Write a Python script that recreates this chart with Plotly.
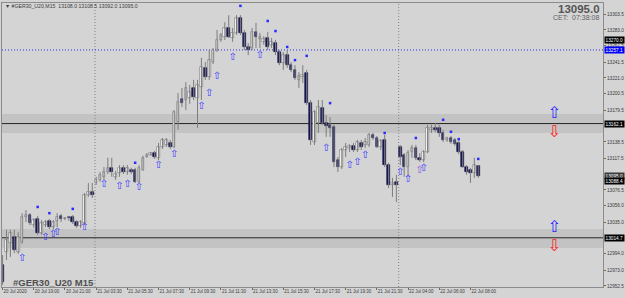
import plotly.graph_objects as go

# ---------------- data ----------------
opens = [12980, 12996.5, 13008, 13016, 12996.5, 13009.5, 13041.5, 13044, 13031, 13039,
         13021, 13031, 13036.5, 13028.5, 13036.5, 13043, 13039, 13040.5, 13041.5, 13035,
         13030, 13034, 13070, 13074, 13085.5, 13089.5, 13093.5, 13099.5, 13105, 13093.5,
         13098.5, 13105, 13099.5, 13102.5, 13102.5, 13087, 13102.5, 13119, 13121.5, 13124,
         13118, 13132, 13134.5, 13137, 13132, 13164, 13194, 13192.5, 13195, 13208,
         13195, 13209.5, 13234, 13222, 13241.5, 13257, 13270, 13274, 13285.5, 13272.5,
         13279, 13298.5, 13279, 13261, 13259.5, 13280.5, 13271.5, 13267.5, 13272.5, 13263.5,
         13266, 13254.5, 13240.5, 13250.5, 13237.5, 13231.5, 13218.5, 13222, 13227.5, 13188.5,
         13138.5, 13163, 13182.5, 13163, 13160.5, 13157.5, 13115, 13106, 13128, 13130.5,
         13133.5, 13128, 13137, 13134.5, 13134.5, 13147.5, 13143.5, 13132, 13141, 13108.5,
         13083, 13087, 13132, 13121.5, 13106, 13125.5, 13130.5, 13118, 13115, 13125.5,
         13153.5, 13156.5, 13156.5, 13150, 13141, 13143.5, 13141, 13137, 13125.5, 13106,
         13102.5, 13098.5, 13108.0]
highs = [12992.5, 13025, 13025, 13025, 13022, 13046.5, 13050.5, 13046.5, 13040, 13043,
         13037.5, 13037.5, 13039, 13037.5, 13046.5, 13045.5, 13041.5, 13043, 13044, 13037.5,
         13037.5, 13072.5, 13085.5, 13085.5, 13093.5, 13099.5, 13106, 13118, 13118, 13101,
         13108.5, 13108.5, 13108.5, 13105, 13105, 13108.5, 13120.5, 13124, 13125.5, 13127,
         13137, 13143.5, 13143.5, 13141, 13179.5, 13201.5, 13208, 13215.5, 13212, 13218.5,
         13218.5, 13247, 13241.5, 13257, 13259.5, 13283, 13279, 13293, 13302, 13285.5,
         13302, 13302, 13283, 13266, 13285.5, 13292, 13279, 13275, 13280.5, 13272.5,
         13270, 13257, 13254.5, 13257, 13241.5, 13237.5, 13228.5, 13237.5, 13231.5, 13192.5,
         13179.5, 13192.5, 13192.5, 13173, 13170.5, 13160.5, 13119, 13130.5, 13137, 13135.5,
         13137, 13141, 13141, 13143.5, 13150, 13150, 13146, 13142, 13147.5, 13111.5,
         13092, 13096, 13134.5, 13124, 13128, 13134.5, 13134.5, 13124, 13128, 13160.5,
         13160.5, 13163, 13160.5, 13154, 13145, 13146, 13143.5, 13140, 13128, 13108.5,
         13105, 13118, 13108.5]
lows = [12954, 12986, 12990, 12995, 12994, 13007, 13035, 13031, 13027.5, 13018.5,
        13018.5, 13028.5, 13026, 13026, 13028.5, 13035, 13037.5, 13036.5, 13032.5, 13027.5,
        13027.5, 13031, 13067.5, 13066, 13083, 13087, 13089.5, 13097, 13093.5, 13089.5,
        13093.5, 13097, 13096, 13097, 13085.5, 13085.5, 13101, 13118, 13120.5, 13116.5,
        13115, 13129.5, 13132, 13129.5, 13130.5, 13154, 13183.5, 13179.5, 13187.5, 13192.5,
        13156.5, 13192.5, 13218.5, 13218.5, 13239, 13254.5, 13267.5, 13270, 13272.5, 13267.5,
        13276.5, 13276.5, 13257, 13250.5, 13257, 13259.5, 13259.5, 13263.5, 13257, 13259.5,
        13250.5, 13237.5, 13231.5, 13234, 13228.5, 13218.5, 13208, 13214.5, 13186, 13134.5,
        13134.5, 13150, 13160.5, 13145, 13145, 13106, 13099.5, 13103.5, 13119, 13125.5,
        13125.5, 13125.5, 13128, 13130.5, 13132, 13141, 13130.5, 13128, 13106, 13079,
        13067.5, 13061, 13108.5, 13093.5, 13093.5, 13118, 13115, 13112.5, 13112.5, 13124,
        13150, 13151, 13145, 13138.5, 13138.5, 13136, 13133.5, 13122.5, 13105, 13096,
        13085.5, 13092, 13092.0]
closes = [12958, 13012, 13021, 12999, 13016, 13041.5, 13044, 13034, 13037.5, 13021,
          13034, 13035, 13028.5, 13035, 13041.5, 13039, 13040.5, 13040, 13035, 13030,
          13035, 13070, 13074, 13070, 13089.5, 13096, 13099.5, 13105, 13099.5, 13097,
          13105, 13099.5, 13105, 13099.5, 13087, 13105, 13118, 13121.5, 13124, 13119,
          13132, 13141, 13141, 13132, 13177, 13190, 13188.5, 13208, 13203, 13196.5,
          13212, 13235, 13222, 13244, 13257, 13270, 13276.5, 13285.5, 13274, 13279,
          13298.5, 13279, 13261, 13257, 13280.5, 13274, 13274, 13271.5, 13261, 13267.5,
          13254.5, 13240.5, 13250.5, 13237.5, 13231.5, 13221, 13223.5, 13225, 13188.5, 13141,
          13177, 13183.5, 13163, 13159, 13156.5, 13112.5, 13106, 13128, 13132, 13133.5,
          13128, 13138.5, 13132, 13138.5, 13147.5, 13143.5, 13132, 13139.5, 13108.5, 13083,
          13085.5, 13083, 13119, 13106, 13124, 13130.5, 13118, 13115, 13125.5, 13156.5,
          13156.5, 13153.5, 13150, 13141, 13143.5, 13138.5, 13136, 13125.5, 13106, 13099.5,
          13098.5, 13108.5, 13095.0]

time_labels = ["20 Jul 2020", "20 Jul 19:00", "20 Jul 21:00", "21 Jul 03:30", "21 Jul 05:30",
               "21 Jul 07:30", "21 Jul 09:30", "21 Jul 11:30", "21 Jul 13:30", "21 Jul 15:30",
               "21 Jul 17:30", "21 Jul 19:30", "21 Jul 21:30", "22 Jul 04:00", "22 Jul 06:00",
               "22 Jul 08:00"]
label_bars = [0, 8, 16, 24, 32, 40, 48, 56, 64, 72, 80, 88, 96, 104, 112, 120]

price_ticks = [13303.5, 13283.0, 13262.5, 13241.5, 13221.0, 13200.5, 13179.5, 13138.5,
               13117.5, 13076.5, 13056.0, 13035.0, 12994.0, 12973.0, 12952.5]

dot_bars = [9, 12, 18, 34, 61, 68, 70, 73, 75, 78, 84, 98, 106, 113, 115, 117, 122]
dot_prices = [13054.5, 13046.5, 13052, 13111.5, 13314, 13294.5, 13281.5, 13261, 13244, 13249.5,
              13188.5, 13150, 13143.5, 13167, 13151.5, 13142, 13116.5]

arrow_bars = [5, 11, 13, 14, 21, 26, 30, 32, 35, 40, 44, 51, 53, 55, 59, 66, 83, 89, 91, 93,
              102, 104, 107, 108]
arrow_prices = [12988.5, 13014.5, 13018.5, 13022, 13027.5, 13084, 13080.5, 13084, 13079,
                13108.5, 13122.5, 13183.5, 13200.5, 13223.5, 13248, 13249.5, 13130.5, 13108.5,
                13112.5, 13120.5, 13098.5, 13090.5, 13102, 13103.5]

signal_up_prices = [13174.5, 13027.5]
signal_dn_prices = [13150.0, 13003.0]
signal_bar = 141.5

level_blue = 13257.1
level_upper = 13162.1
level_lower = 13014.7
band_upper = (13150.0, 13174.5)
band_lower = (13001.5, 13026.0)
day_separators = [23.7, 101.6]

axis_labels = [(13270.0, "#000000"), (13257.1, "#0000ff"), (13162.1, "#000000"),
               (13095.0, "#3a3a3a"), (13088.4, "#000000"), (13014.7, "#000000")]

header = "▼ #GER30_U20,M15  13108.0 13108.5 13092.0 13095.0"
big_price = "13095.0"
clock = "CET:  07:38:08"
symbol_caption = "#GER30_U20 M15"

# ---------------- figure ----------------
W, H = 625, 298
ML, MR, MT, MB = 2, 22, 3, 11
PW, PH = W - ML - MR, H - MT - MB
XR = [-0.15, 154.0]
YR = [12951.2, 13317.7]
BG = "#d4d4d4"


def xp(px):
    return (px - ML) / PW


def yp(py):
    return 1 - (py - MT) / PH


n = len(opens)
idx = list(range(n))

fig = go.Figure()

shapes = []
for lo, hi in (band_upper, band_lower):
    shapes.append(dict(type="rect", xref="paper", yref="y", x0=0, x1=1, y0=lo, y1=hi,
                       fillcolor="#c3c3c3", line_width=0, layer="below"))
for xs in day_separators:
    shapes.append(dict(type="line", xref="x", yref="paper", x0=xs, x1=xs, y0=0, y1=1,
                       line=dict(color="#858585", width=1, dash="1px,2px"), layer="below"))
shapes.append(dict(type="line", xref="paper", yref="y", x0=0, x1=1, y0=level_blue, y1=level_blue,
                   line=dict(color="#3030e8", width=1, dash="1px,2px"), layer="below"))
for lv in (level_upper, level_lower):
    shapes.append(dict(type="line", xref="paper", yref="y", x0=0, x1=1, y0=lv, y1=lv,
                       line=dict(color="#262626", width=1), layer="below"))

# wicks
wx, wy = [], []
for i in idx:
    wx += [i, i, None]
    wy += [lows[i], highs[i], None]
fig.add_trace(go.Scatter(x=wx, y=wy, mode="lines", line=dict(color="#7c7c7c", width=1),
                         hoverinfo="skip", showlegend=False))

# bodies
for bull in (True, False):
    xs, base, hgt = [], [], []
    for i in idx:
        if (closes[i] >= opens[i]) == bull:
            xs.append(i)
            lo = min(opens[i], closes[i])
            base.append(lo)
            hgt.append(max(abs(closes[i] - opens[i]), 0.9))
    fig.add_trace(go.Bar(x=xs, y=hgt, base=base, width=0.68,
                         marker=dict(color="#ffffff" if bull else "#16164e",
                                     line=dict(color="#6a6a6a" if bull else "#16164e", width=0.6)),
                         showlegend=False, hoverinfo="skip"))

# dots
fig.add_trace(go.Scatter(x=dot_bars, y=dot_prices, mode="markers",
                         marker=dict(symbol="square", size=2.5, color="#2b2bff", line_width=0),
                         showlegend=False, hoverinfo="skip"))

# arrows
arrow_colors = ["#3a3aff"] * len(arrow_bars)
arrow_colors[arrow_bars.index(107)] = "#8a5ad8"
fig.add_trace(go.Scatter(x=arrow_bars, y=arrow_prices, mode="text", text=["⇧"] * len(arrow_bars),
                         textfont=dict(family="DejaVu Sans", size=10, color=arrow_colors),
                         textposition="middle center", showlegend=False, hoverinfo="skip"))
fig.add_trace(go.Scatter(x=[signal_bar] * 2, y=signal_up_prices, mode="text", text=["⇧"] * 2,
                         textfont=dict(family="DejaVu Sans", size=16, color="#1f1fff"),
                         textposition="middle center", showlegend=False, hoverinfo="skip"))
fig.add_trace(go.Scatter(x=[signal_bar] * 2, y=signal_dn_prices, mode="text", text=["⇩"] * 2,
                         textfont=dict(family="DejaVu Sans", size=16, color="#ff1a1a"),
                         textposition="middle center", showlegend=False, hoverinfo="skip"))

ann = []
FONT = "Arial, Liberation Sans, sans-serif"
ann.append(dict(xref="paper", yref="paper", x=xp(3), y=yp(5.5), xanchor="left", yanchor="middle",
                text=header, showarrow=False, font=dict(family=FONT, size=5.2, color="#3c3c3c")))
ann.append(dict(xref="paper", yref="paper", x=xp(602), y=yp(8.5), xanchor="right", yanchor="middle",
                text="<b>%s</b>" % big_price, showarrow=False,
                font=dict(family=FONT, size=11.5, color="#555555")))
ann.append(dict(xref="paper", yref="paper", x=xp(601), y=yp(17.5), xanchor="right", yanchor="middle",
                text=clock, showarrow=False, font=dict(family=FONT, size=7, color="#606060")))
ann.append(dict(xref="paper", yref="paper", x=xp(11), y=yp(282.5), xanchor="left", yanchor="middle",
                text="<b>%s</b>" % symbol_caption, showarrow=False,
                font=dict(family=FONT, size=9.5, color="#505050")))
for val, col in axis_labels:
    ann.append(dict(xref="paper", yref="y", x=xp(604), y=val, xanchor="left", yanchor="middle",
                    text=f"{val:.1f}", showarrow=False, bgcolor=col, borderpad=0.6,
                    font=dict(family=FONT, size=4.7, color="#ffffff")))

fig.update_layout(
    width=W, height=H, margin=dict(l=ML, r=MR, t=MT, b=MB, pad=0, autoexpand=False),
    paper_bgcolor=BG, plot_bgcolor=BG, barmode="overlay", bargap=0,
    shapes=shapes, annotations=ann, showlegend=False,
    xaxis=dict(range=XR, showgrid=False, zeroline=False, showline=True, mirror=True,
               automargin=False, tickangle=0,
               linecolor="#8c8c8c", linewidth=1, ticks="outside", ticklen=2, tickcolor="#6a6a6a",
               tickvals=label_bars, ticktext=time_labels, ticklabelposition="outside right",
               tickfont=dict(family=FONT, size=4.5, color="#3c3c3c")),
    yaxis=dict(range=YR, side="right", showgrid=False, zeroline=False, showline=True, mirror=True,
               automargin=False,
               linecolor="#8c8c8c", linewidth=1, ticks="outside", ticklen=2, tickcolor="#6a6a6a",
               tickvals=price_ticks, ticktext=[f"{v:.1f}" for v in price_ticks],
               tickfont=dict(family=FONT, size=4.7, color="#3c3c3c")),
)

fig.write_html("out.html")
